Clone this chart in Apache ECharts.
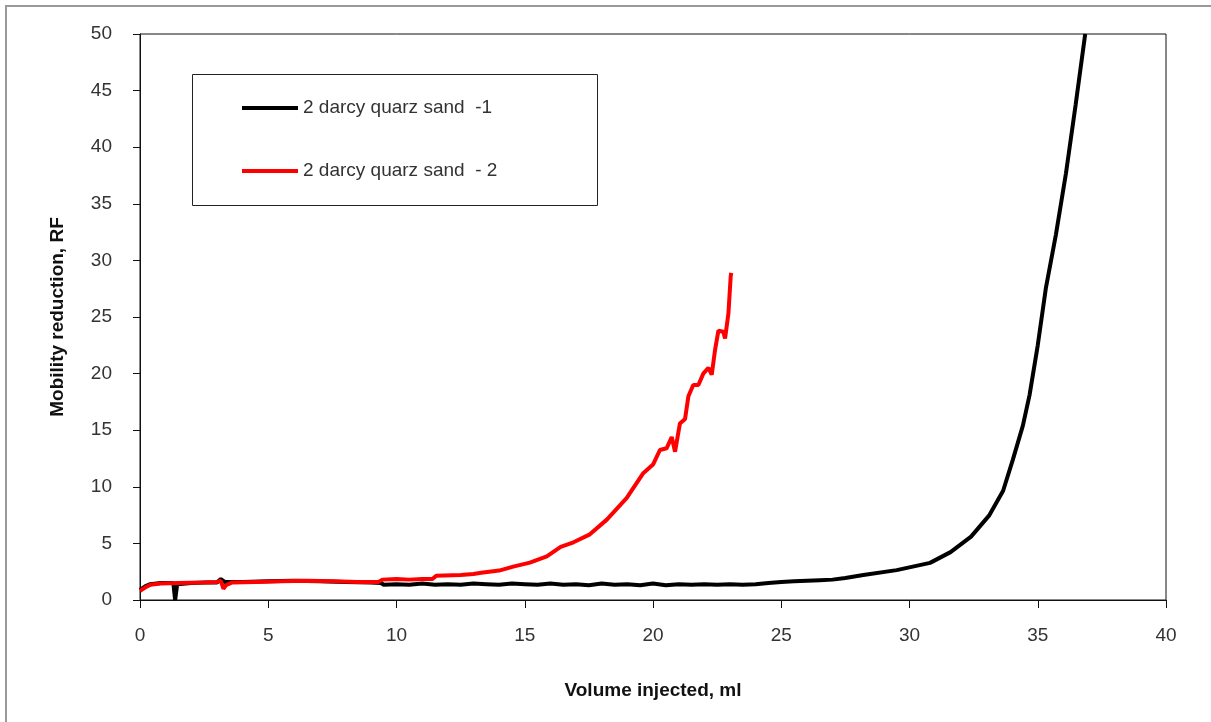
<!DOCTYPE html>
<html>
<head>
<meta charset="utf-8">
<script src="https://cdn.jsdelivr.net/npm/echarts@6/dist/echarts.min.js"></script>
<style>
html,body{margin:0;padding:0;background:#fff;}
#chart{width:1211px;height:722px;}
</style>
</head>
<body>
<div id="chart"></div>
<script>
var seriesNames = ['2 darcy quarz sand  -1', '2 darcy quarz sand  - 2'];
var xTicks = [0, 5, 10, 15, 20, 25, 30, 35, 40];
var yTicks = [0, 5, 10, 15, 20, 25, 30, 35, 40, 45, 50];

var sand1X = [0,0.2,0.4,0.8,1.3,1.36,1.37,1.44,1.45,1.5,2.0,2.5,3.0,3.15,3.3,4.0,5.0,6.0,7.0,8.0,9.0,9.4,9.5,10,10.5,11,11.5,12,12.5,13,13.5,14,14.5,15,15.5,16,16.5,17,17.5,18,18.5,19,19.5,20,20.5,21,21.5,22,22.5,23,23.5,24,24.5,25,25.5,26,26.5,27,27.5,28.2,29.5,30.8,31.6,32.4,33.1,33.65,34.03,34.42,34.68,35.0,35.32,35.71,36.1,36.48,36.85];
var sand1Y = [0.9,1.2,1.4,1.5,1.5,1.4,0.0,0.0,1.4,1.5,1.5,1.55,1.55,1.85,1.6,1.6,1.65,1.7,1.65,1.6,1.55,1.5,1.35,1.4,1.35,1.45,1.35,1.4,1.35,1.45,1.4,1.35,1.45,1.4,1.35,1.45,1.35,1.4,1.3,1.45,1.35,1.4,1.3,1.45,1.3,1.4,1.35,1.4,1.35,1.4,1.35,1.4,1.5,1.6,1.65,1.7,1.75,1.8,1.95,2.2,2.64,3.28,4.23,5.6,7.45,9.65,12.4,15.4,18.1,22.5,27.6,32.3,37.7,43.8,50];

var sand2X = [0,0.2,0.4,0.8,1.5,2.5,3.0,3.15,3.25,3.35,3.6,4.5,5.5,6.5,7.5,8.5,9.3,9.45,10.0,10.5,11.0,11.4,11.55,12.5,13.0,13.3,14.0,14.55,15.2,15.86,16.4,16.9,17.54,18.2,18.97,19.62,20.01,20.27,20.53,20.73,20.86,21.05,21.25,21.38,21.57,21.77,21.96,22.16,22.29,22.42,22.55,22.74,22.81,22.94,23.03,23.05];
var sand2Y = [0.8,1.1,1.35,1.45,1.5,1.55,1.6,1.7,1.0,1.3,1.55,1.6,1.65,1.7,1.65,1.6,1.6,1.8,1.85,1.8,1.85,1.85,2.15,2.2,2.3,2.4,2.6,2.95,3.3,3.85,4.7,5.1,5.8,7.1,9.0,11.2,12.0,13.25,13.4,14.4,13.1,15.6,16.0,18.0,19.0,19.0,20.0,20.5,19.9,22.1,23.8,23.7,23.1,25.3,28.6,28.9];

function pairs(xs, ys){ return xs.map(function(x,i){ return [x, ys[i]]; }); }

var chart = echarts.init(document.getElementById('chart'), null, {renderer:'canvas'});
var font = 'Liberation Sans, Arial, sans-serif';
chart.setOption({
  animation: false,
  backgroundColor: '#ffffff',
  graphic: [
    {type:'rect', shape:{x:6, y:6, width:1210, height:720}, style:{fill:'none', stroke:'#9a9a9a', lineWidth:2}, z:0},
    {type:'rect', shape:{x:192.5, y:74.5, width:405, height:131}, style:{fill:'#fff', stroke:'#222', lineWidth:1}, z:5}
  ],
  grid: {left:140, right:45, top:34, bottom:122, show:true, borderColor:'#111', borderWidth:1, backgroundColor:'transparent'},
  legend: {
    orient:'vertical', left:232, top:88, padding:[10,10,10,10], z:10,
    itemWidth:56, itemHeight:4, itemGap:43, icon:'rect',
    textStyle:{fontFamily:font, fontSize:19, color:'#333', lineHeight:20},
    data: seriesNames
  },
  xAxis: {
    type:'value', min:0, max:40, interval:5,
    name:'Volume injected, ml', nameLocation:'middle', nameGap:81,
    nameTextStyle:{fontFamily:font, fontSize:19, fontWeight:'bold', color:'#111'},
    axisLine:{show:true, onZero:false, lineStyle:{color:'#111', width:1}},
    axisTick:{show:true, inside:false, length:8, lineStyle:{color:'#111'}},
    axisLabel:{fontFamily:font, fontSize:19, color:'#333', margin:26,
      formatter:function(v){ return xTicks.indexOf(v) >= 0 ? String(v) : ''; }},
    splitLine:{show:false}
  },
  yAxis: {
    type:'value', min:0, max:50, interval:5,
    name:'Mobility reduction, RF', nameLocation:'middle', nameGap:73, nameRotate:90,
    nameTextStyle:{fontFamily:font, fontSize:19, fontWeight:'bold', color:'#111'},
    axisLine:{show:true, onZero:false, lineStyle:{color:'#111', width:1}},
    axisTick:{show:true, inside:false, length:7, lineStyle:{color:'#111'}},
    axisLabel:{fontFamily:font, fontSize:19, color:'#333', margin:28,
      formatter:function(v){ return yTicks.indexOf(v) >= 0 ? String(v) : ''; }},
    splitLine:{show:false}
  },
  series: [
    {name:seriesNames[0], type:'line', data:pairs(sand1X, sand1Y), symbol:'none', smooth:false,
     lineStyle:{color:'#000', width:4}, itemStyle:{color:'#000'}, z:3, clip:true},
    {name:seriesNames[1], type:'line', data:pairs(sand2X, sand2Y), symbol:'none', smooth:false,
     lineStyle:{color:'#ff0000', width:4}, itemStyle:{color:'#ff0000'}, z:4, clip:true}
  ]
});
</script>
</body>
</html>
